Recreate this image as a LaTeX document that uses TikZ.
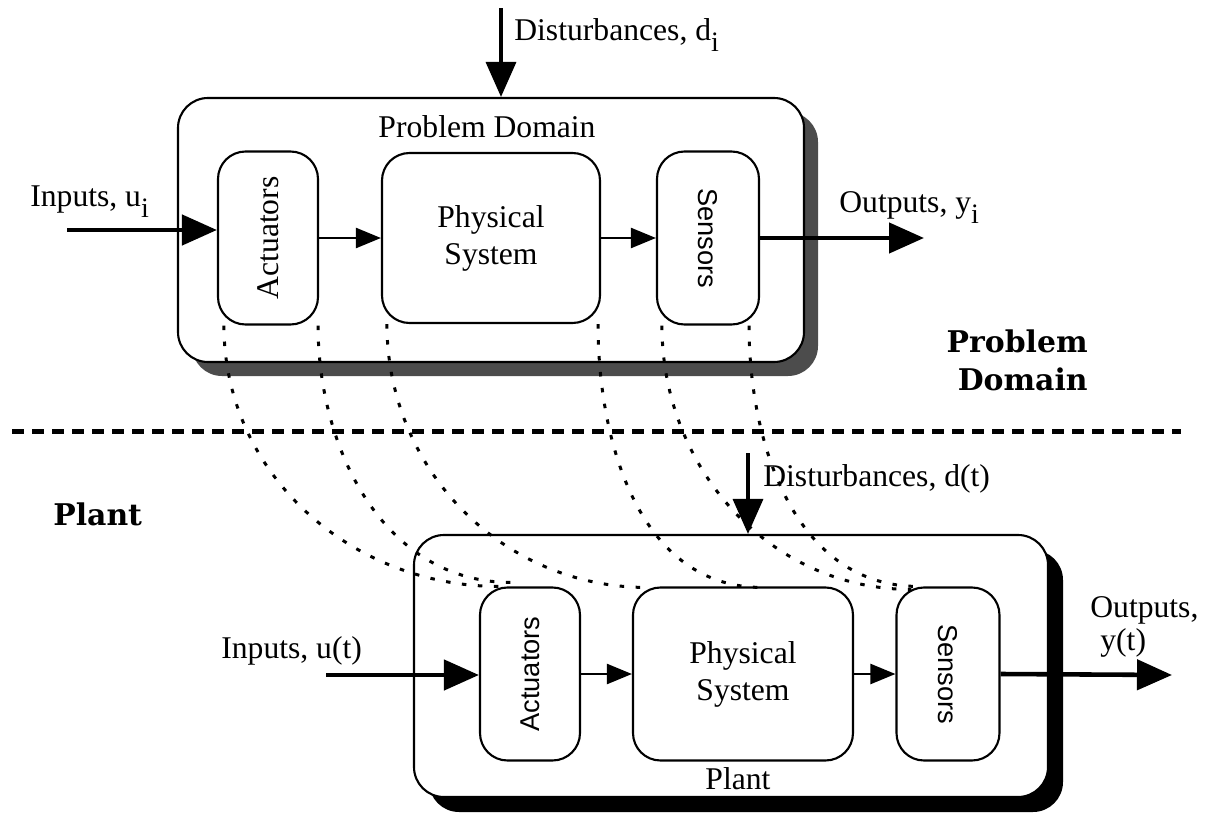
\documentclass[tikz,border=0pt]{standalone}
\usepackage{fontspec}
\setmainfont{Liberation Serif}
\setsansfont{Liberation Sans}
\newfontfamily\headfont{DejaVu Serif}
\usetikzlibrary{arrows.meta, shadows, calc}
\newcommand{\lowsub}[1]{\raisebox{-0.8ex}{\fontsize{16}{16}\selectfont #1}}

\begin{document}
\begin{tikzpicture}[x=0.2mm, y=-0.2mm, font=\fontsize{18}{21}\selectfont, frame/.style={draw, line width=1.2pt, rounded corners=6mm, fill=white}, block/.style={draw, line width=1.2pt, rounded corners=5.5mm, inner sep=0pt, fill=white}, flow/.style={-{Triangle[length=5mm, width=4mm]}, line width=1.3pt}, signal/.style={-{Triangle[length=7mm, width=6mm]}, line width=2.6pt}, push/.style={-{Triangle[length=7mm, width=6mm]}, line width=2pt}, link/.style={line width=1.7pt, dash pattern=on 0.9mm off 2.3mm}, txt/.style={inner sep=0pt}, tag/.style={inner sep=0pt, font=\headfont\bfseries\fontsize{17}{22}\selectfont}]
\useasboundingbox (0,0) rectangle (1206,815);

\node[frame, minimum width=125.2mm, minimum height=52.8mm, drop shadow={shadow xshift=2.8mm, shadow yshift=-2.8mm, fill=black!70, opacity=1}] (tdom) at (491,230) {};
\node[frame, minimum width=126.8mm, minimum height=52.4mm, drop shadow={shadow xshift=3mm, shadow yshift=-3mm, fill=black, opacity=1}] (bdom) at (731,666) {};

\node[block, minimum width=20mm, minimum height=34.6mm] (ta) at (268,238) {\rotatebox{90}{Actuators}}; \node[block, minimum width=43.6mm, minimum height=34mm, align=center] (tp) at (491,238) {Physical\\System}; \node[block, minimum width=20.4mm, minimum height=34.6mm] (ts) at (708,238) {\rotatebox{-90}{\sffamily\fontsize{15.5}{18}\selectfont Sensors}};
\node[block, minimum width=20mm, minimum height=34.6mm] (ba) at (530,674) {\rotatebox{90}{\sffamily\fontsize{15.5}{18}\selectfont Actuators}}; \node[block, minimum width=44mm, minimum height=34.6mm, align=center] (bp) at (743,674) {Physical\\System}; \node[block, minimum width=20.6mm, minimum height=34.6mm] (bs) at (948,674) {\rotatebox{-90}{\sffamily\fontsize{15.5}{18}\selectfont Sensors}};

\coordinate (tin) at (67,230); \coordinate (tout) at (924,238); \coordinate (tdist) at (501,8);
\draw[signal] (tin) -- (tin -| ta.west); \draw[flow] (ta) -- (tp); \draw[flow] (tp) -- (ts); \draw[signal] (ts.east) -- (tout); \draw[push] (tdist) -- (tdist |- tdom.north);
\coordinate (bin) at (326,675); \coordinate (bout) at (1172,675); \coordinate (bdist) at (748,453);
\draw[signal] (bin) -- (bin -| ba.west); \draw[flow] (ba) -- (bp); \draw[flow] (bp) -- (bs); \draw[signal] (bs.east) -- (bout); \draw[push] (bdist) -- (bdist |- bdom.north);

\draw[link] ($(ta.south west)+(7,0)$) to[out=-90, in=180] ($(ba.north west)+(20,0)$); \draw[link] ($(ta.south east)+(-1,0)$) to[out=-90, in=180] ($(ba.north west)+(32,-4)$);
\draw[link] ($(tp.south west)+(6,0)$) to[out=-90, in=180] ($(bp.north west)+(15,1)$); \draw[link] ($(tp.south east)+(-3,0)$) to[out=-90, in=180] ($(bp.north)+(19,1)$);
\draw[link] ($(ts.south west)+(6,0)$) to[out=-90, in=180] ($(bs.north west)+(16,3)$); \draw[link] ($(ts.south east)+(-11,0)$) to[out=-90, in=180] ($(bs.north west)+(23,0)$);
\coordinate (sepl) at (12,431); \coordinate (sepr) at (1181,431); \draw[line width=1mm, dash pattern=on 2.4mm off 1.6mm] (sepl) -- (sepr);

\node[txt, anchor=base west] (tdlab) at (514,40) {Disturbances, d\lowsub{i}}; \node[txt, anchor=base west] (tinlab) at (30,206) {Inputs, u\lowsub{i}}; \node[txt, anchor=base west] (toutlab) at (839,212) {Outputs, y\lowsub{i}}; \node[txt, anchor=base] (tname) at (487,137) {Problem Domain};
\node[tag, anchor=north east, align=right] (pdtag) at (1088,329) {Problem\\Domain}; \node[tag, anchor=base west] (planttag) at (53,525) {Plant};
\node[txt, anchor=base west] (bdlab) at (763,486) {Disturbances, d(t)}; \node[txt, anchor=base west] (binlab) at (221,658) {Inputs, u(t)}; \node[txt, anchor=north west, align=left, font=\fontsize{18}{19}\selectfont] (boutlab) at (1090,596) {Outputs,\\\hspace{2mm}y(t)}; \node[txt, anchor=base] (bname) at (738,789) {Plant};
\end{tikzpicture}
\end{document}
